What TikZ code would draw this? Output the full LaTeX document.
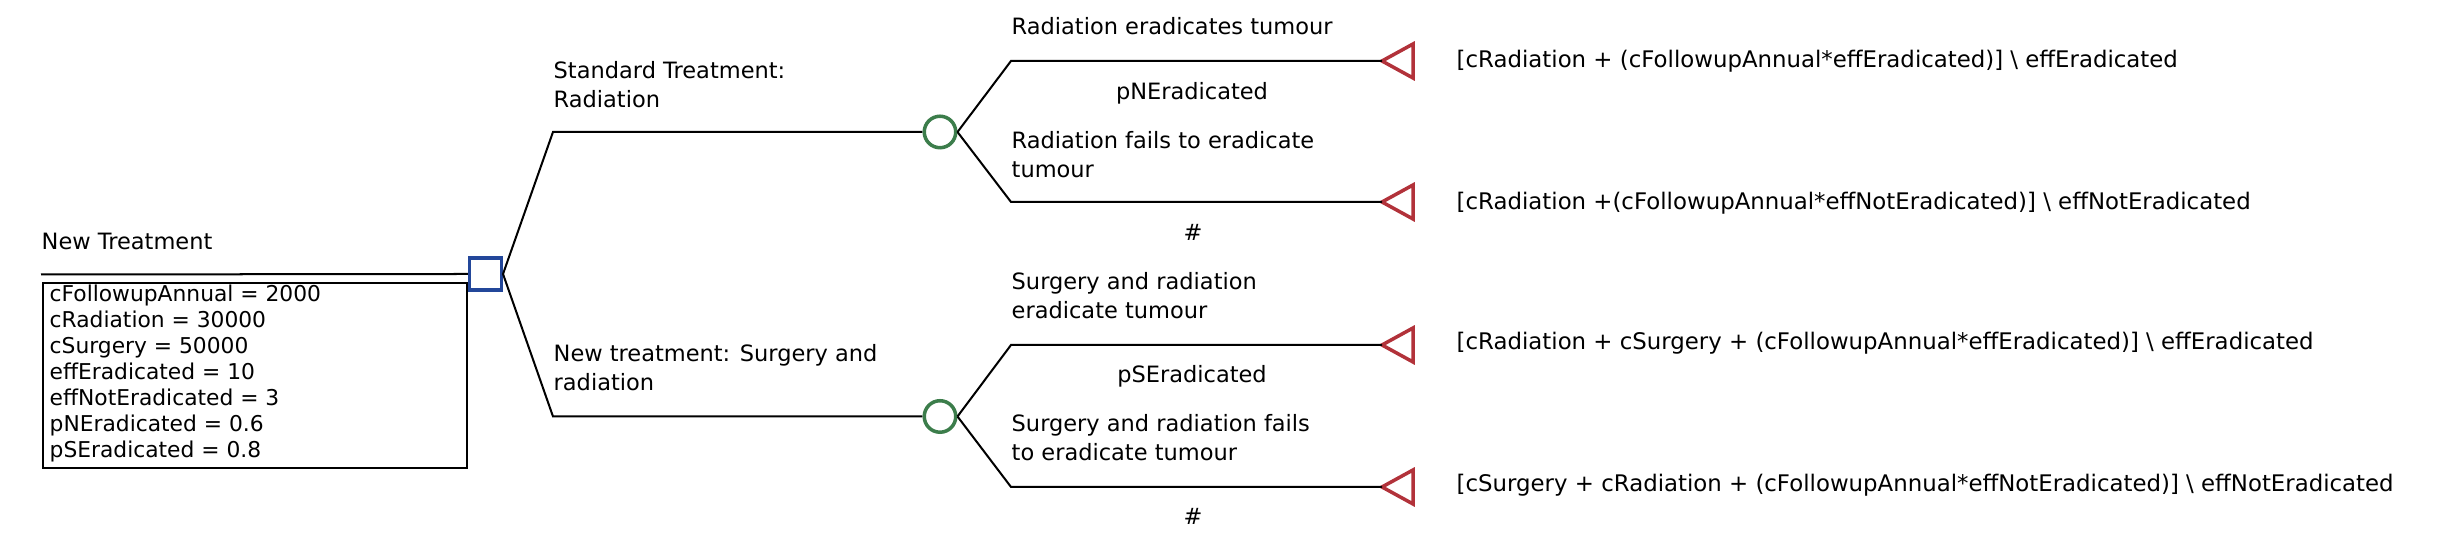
\documentclass[tikz,border=0pt]{standalone}
\usepackage{fontspec}
\setmainfont{DejaVu Sans}
\usetikzlibrary{positioning}
\definecolor{decblue}{HTML}{23479A}
\definecolor{chgreen}{HTML}{3C7D4B}
\definecolor{termred}{HTML}{B2323A}

\begin{document}
\begin{tikzpicture}[font=\fontsize{6.4}{8.4}\selectfont,
  lbl/.style={anchor=base west,align=left,inner sep=0pt},
  prob/.style={anchor=base,inner sep=0pt},
  pay/.style={lbl,font=\fontsize{6.5}{8.4}\selectfont},
  br/.style={line width=0.57pt},
  dec/.style={draw=decblue,line width=0.95pt,minimum size=0.317cm,inner sep=0pt},
  chance/.style={circle,draw=chgreen,line width=1pt,minimum size=0.315cm,inner sep=0pt},
  term/.style={draw=termred,line width=1pt,line join=miter}]
\useasboundingbox (0,0) rectangle (24.64,-5.44);
% decision node and its variables
\node[lbl] (title) at (0.41,-2.50) {New Treatment};
\coordinate (root) at (0.41,-2.745);
\node[dec] (dec) at (4.855,-2.74) {};
\draw[br] (root) -- (dec.west);
\node[draw,line width=0.57pt,anchor=north west,minimum width=4.24cm,minimum height=1.85cm,inner sep=0pt] (vars) at (0.42,-2.82) {};
\foreach \t [count=\i] in {cFollowupAnnual = 2000,cRadiation = 30000,cSurgery = 50000,effEradicated = 10,effNotEradicated = 3,pNEradicated = 0.6,pSEradicated = 0.8}
  \node[lbl,font=\fontsize{6.2}{7.4}\selectfont] (v\i) at (0.49,{-3.02-0.26*(\i-1)}) {\t};
% strategies
\node[chance] (ch1) at (9.40,-1.32) {};
\node[chance] (ch2) at (9.40,-4.165) {};
\coordinate (s1) at (5.53,-1.32);
\coordinate (s2) at (5.53,-4.165);
\draw[br] (dec.east) -- (s1) -- (ch1.west);
\draw[br] (dec.east) -- (s2) -- (ch2.west);
\node[lbl] (lab1) at (5.53,-1.08) {Standard Treatment:\\Radiation};
\node[lbl] (lab2) at (5.53,-3.91) {New treatment: Surgery and\\radiation};
% terminal nodes
\foreach \n/\y in {t1/-0.61,t2/-2.02,t3/-3.45,t4/-4.87}{
  \coordinate (\n) at (13.82,\y);
  \draw[term] (\n) -- ++(0.31,0.17) -- ++(0,-0.34) -- cycle;}
\foreach \n/\y in {a1/-0.61,a2/-2.02,a3/-3.45,a4/-4.87}
  \coordinate (\n) at (10.11,\y);
\draw[br] (ch1.east) -- (a1) -- (t1);
\draw[br] (ch1.east) -- (a2) -- (t2);
\draw[br] (ch2.east) -- (a3) -- (t3);
\draw[br] (ch2.east) -- (a4) -- (t4);
% outcome labels
\node[lbl] (o1) at (10.11,-0.35) {Radiation eradicates tumour};
\node[prob] (p1) at (11.92,-1.00) {pNEradicated};
\node[lbl] (o2) at (10.11,-1.78) {Radiation fails to eradicate\\tumour};
\node[prob] (p2) at (11.93,-2.41) {\#};
\node[lbl] (o3) at (10.11,-3.19) {Surgery and radiation\\eradicate tumour};
\node[prob] (p3) at (11.92,-3.83) {pSEradicated};
\node[lbl] (o4) at (10.11,-4.61) {Surgery and radiation fails\\to eradicate tumour};
\node[prob] (p4) at (11.93,-5.25) {\#};
% payoffs
\node[pay] (r1) at (14.56,-0.68) {[cRadiation + (cFollowupAnnual*effEradicated)] \textbackslash{} effEradicated};
\node[pay] (r2) at (14.56,-2.10) {[cRadiation +(cFollowupAnnual*effNotEradicated)] \textbackslash{} effNotEradicated};
\node[pay] (r3) at (14.56,-3.50) {[cRadiation + cSurgery + (cFollowupAnnual*effEradicated)] \textbackslash{} effEradicated};
\node[pay] (r4) at (14.56,-4.92) {[cSurgery + cRadiation + (cFollowupAnnual*effNotEradicated)] \textbackslash{} effNotEradicated};
\end{tikzpicture}
\end{document}
